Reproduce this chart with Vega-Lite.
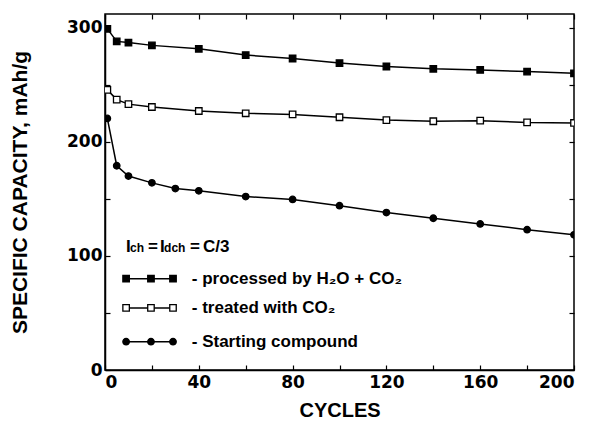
{
  "$schema": "https://vega.github.io/schema/vega-lite/v6.json",
  "width": 469,
  "height": 356,
  "autosize": "none",
  "padding": {"left": 105, "top": 14, "right": 20, "bottom": 55},
  "background": "white",
  "config": {
    "view": {"stroke": "black", "strokeWidth": 1.5},
    "axis": {
      "grid": false,
      "domainColor": "black",
      "domainWidth": 1.5,
      "tickColor": "black",
      "tickWidth": 1.2,
      "labelColor": "black",
      "titleColor": "black",
      "labelFont": "DejaVu Sans",
      "titleFont": "Liberation Sans",
      "labelFontWeight": "bold",
      "titleFontWeight": "bold"
    }
  },
  "datasets": {
    "curves": [
      {"series": "processed by H₂O + CO₂", "cycle": 1, "capacity": 299},
      {"series": "processed by H₂O + CO₂", "cycle": 5, "capacity": 288},
      {"series": "processed by H₂O + CO₂", "cycle": 10, "capacity": 287},
      {"series": "processed by H₂O + CO₂", "cycle": 20, "capacity": 284.5},
      {"series": "processed by H₂O + CO₂", "cycle": 40, "capacity": 281.5},
      {"series": "processed by H₂O + CO₂", "cycle": 60, "capacity": 276},
      {"series": "processed by H₂O + CO₂", "cycle": 80, "capacity": 273},
      {"series": "processed by H₂O + CO₂", "cycle": 100, "capacity": 269},
      {"series": "processed by H₂O + CO₂", "cycle": 120, "capacity": 266},
      {"series": "processed by H₂O + CO₂", "cycle": 140, "capacity": 264},
      {"series": "processed by H₂O + CO₂", "cycle": 160, "capacity": 263},
      {"series": "processed by H₂O + CO₂", "cycle": 180, "capacity": 261.5},
      {"series": "processed by H₂O + CO₂", "cycle": 200, "capacity": 260},
      {"series": "treated with CO₂", "cycle": 1, "capacity": 245.5},
      {"series": "treated with CO₂", "cycle": 5, "capacity": 237},
      {"series": "treated with CO₂", "cycle": 10, "capacity": 233},
      {"series": "treated with CO₂", "cycle": 20, "capacity": 230.5},
      {"series": "treated with CO₂", "cycle": 40, "capacity": 227},
      {"series": "treated with CO₂", "cycle": 60, "capacity": 225},
      {"series": "treated with CO₂", "cycle": 80, "capacity": 224},
      {"series": "treated with CO₂", "cycle": 100, "capacity": 221.5},
      {"series": "treated with CO₂", "cycle": 120, "capacity": 219},
      {"series": "treated with CO₂", "cycle": 140, "capacity": 218},
      {"series": "treated with CO₂", "cycle": 160, "capacity": 218.5},
      {"series": "treated with CO₂", "cycle": 180, "capacity": 217},
      {"series": "treated with CO₂", "cycle": 200, "capacity": 216.5},
      {"series": "Starting compound", "cycle": 1, "capacity": 220.5},
      {"series": "Starting compound", "cycle": 5, "capacity": 179},
      {"series": "Starting compound", "cycle": 10, "capacity": 170},
      {"series": "Starting compound", "cycle": 20, "capacity": 164},
      {"series": "Starting compound", "cycle": 30, "capacity": 159},
      {"series": "Starting compound", "cycle": 40, "capacity": 157},
      {"series": "Starting compound", "cycle": 60, "capacity": 152},
      {"series": "Starting compound", "cycle": 80, "capacity": 149.5},
      {"series": "Starting compound", "cycle": 100, "capacity": 144},
      {"series": "Starting compound", "cycle": 120, "capacity": 138},
      {"series": "Starting compound", "cycle": 140, "capacity": 133},
      {"series": "Starting compound", "cycle": 160, "capacity": 128},
      {"series": "Starting compound", "cycle": 180, "capacity": 123},
      {"series": "Starting compound", "cycle": 200, "capacity": 118.5}
    ],
    "legendMarks": [
      {"series": "processed by H₂O + CO₂", "cycle": 9, "capacity": 80},
      {"series": "processed by H₂O + CO₂", "cycle": 19.6, "capacity": 80},
      {"series": "processed by H₂O + CO₂", "cycle": 29, "capacity": 80},
      {"series": "treated with CO₂", "cycle": 9, "capacity": 54.4},
      {"series": "treated with CO₂", "cycle": 19.6, "capacity": 54.4},
      {"series": "treated with CO₂", "cycle": 29, "capacity": 54.4},
      {"series": "Starting compound", "cycle": 9, "capacity": 24.8},
      {"series": "Starting compound", "cycle": 19.6, "capacity": 24.8},
      {"series": "Starting compound", "cycle": 29, "capacity": 24.8}
    ],
    "legendText": [
      {"label": "- processed by H₂O + CO₂", "cycle": 37, "capacity": 80},
      {"label": "- treated with CO₂", "cycle": 37, "capacity": 54.4},
      {"label": "- Starting compound", "cycle": 37, "capacity": 24.8}
    ],
    "condMain": [
      {"label": "I", "cycle": 8.95, "capacity": 103.5},
      {"label": "=", "cycle": 18.3, "capacity": 103.5},
      {"label": "I", "cycle": 23.5, "capacity": 103.5},
      {"label": "=", "cycle": 36.2, "capacity": 103.5},
      {"label": "C/3", "cycle": 41.8, "capacity": 103.5}
    ],
    "condSub": [
      {"label": "ch", "cycle": 10.7, "capacity": 103.5},
      {"label": "dch", "cycle": 25.2, "capacity": 103.5}
    ]
  },
  "encoding": {
    "x": {
      "field": "cycle",
      "type": "quantitative",
      "scale": {"domain": [0, 200], "nice": false, "zero": false},
      "axis": null
    },
    "y": {
      "field": "capacity",
      "type": "quantitative",
      "scale": {"domain": [0, 312], "nice": false},
      "axis": null
    }
  },
  "layer": [
    {
      "data": {"name": "curves"},
      "mark": {"type": "line", "color": "black", "strokeWidth": 1.5, "clip": true},
      "encoding": {
        "detail": {"field": "series"},
        "x": {
          "field": "cycle",
          "type": "quantitative",
          "scale": {"domain": [0, 200], "nice": false, "zero": false},
          "axis": {
            "orient": "bottom",
            "values": [0, 20, 40, 60, 80, 100, 120, 140, 160, 180, 200],
            "labelExpr": "datum.value % 40 == 0 ? datum.label : ''",
            "tickSize": -5,
            "labelPadding": 9,
            "labelFontSize": 17,
            "title": "CYCLES",
            "titleFontSize": 20,
            "titlePadding": 10
          }
        },
        "y": {
          "field": "capacity",
          "type": "quantitative",
          "scale": {"domain": [0, 312], "nice": false},
          "axis": {
            "orient": "left",
            "values": [0, 50, 100, 150, 200, 250, 300],
            "labelExpr": "datum.value % 100 == 0 ? datum.label : ''",
            "tickSize": -5,
            "labelPadding": 8,
            "labelFontSize": 17,
            "title": "SPECIFIC CAPACITY, mAh/g",
            "titleFontSize": 21,
            "titlePadding": 36
          }
        }
      }
    },
    {
      "data": {"name": "curves"},
      "mark": {"type": "point", "filled": true, "size": 42, "stroke": "black", "strokeWidth": 1.3, "opacity": 1, "clip": true},
      "encoding": {
        "x": {
          "field": "cycle",
          "type": "quantitative",
          "scale": {"domain": [0, 200], "nice": false, "zero": false},
          "axis": {"orient": "top", "values": [0, 20, 40, 60, 80, 100, 120, 140, 160, 180, 200], "labels": false, "domain": false, "tickSize": -5, "title": null}
        },
        "y": {
          "field": "capacity",
          "type": "quantitative",
          "scale": {"domain": [0, 312], "nice": false},
          "axis": {"orient": "right", "values": [0, 50, 100, 150, 200, 250, 300], "labels": false, "domain": false, "tickSize": -5, "title": null}
        },
        "shape": {
          "field": "series",
          "type": "nominal",
          "scale": {"domain": ["processed by H₂O + CO₂", "treated with CO₂", "Starting compound"], "range": ["square", "square", "circle"]},
          "legend": null
        },
        "fill": {
          "field": "series",
          "type": "nominal",
          "scale": {"domain": ["processed by H₂O + CO₂", "treated with CO₂", "Starting compound"], "range": ["black", "white", "black"]},
          "legend": null
        }
      }
    },
    {
      "data": {"name": "legendMarks"},
      "mark": {"type": "line", "color": "black", "strokeWidth": 1.5},
      "encoding": {"detail": {"field": "series"}}
    },
    {
      "data": {"name": "legendMarks"},
      "mark": {"type": "point", "filled": true, "size": 42, "stroke": "black", "strokeWidth": 1.3, "opacity": 1},
      "encoding": {
        "shape": {"field": "series", "type": "nominal", "legend": null},
        "fill": {"field": "series", "type": "nominal", "legend": null}
      }
    },
    {
      "data": {"name": "legendText"},
      "mark": {"type": "text", "align": "left", "baseline": "middle", "font": "Liberation Sans", "fontWeight": "bold", "fontSize": 17, "color": "black"},
      "encoding": {"text": {"field": "label"}}
    },
    {
      "data": {"name": "condMain"},
      "mark": {"type": "text", "align": "left", "baseline": "alphabetic", "font": "Liberation Sans", "fontWeight": "bold", "fontSize": 17, "color": "black"},
      "encoding": {"text": {"field": "label"}}
    },
    {
      "data": {"name": "condSub"},
      "mark": {"type": "text", "align": "left", "baseline": "alphabetic", "font": "Liberation Sans", "fontWeight": "bold", "fontSize": 12, "color": "black"},
      "encoding": {"text": {"field": "label"}}
    }
  ]
}
